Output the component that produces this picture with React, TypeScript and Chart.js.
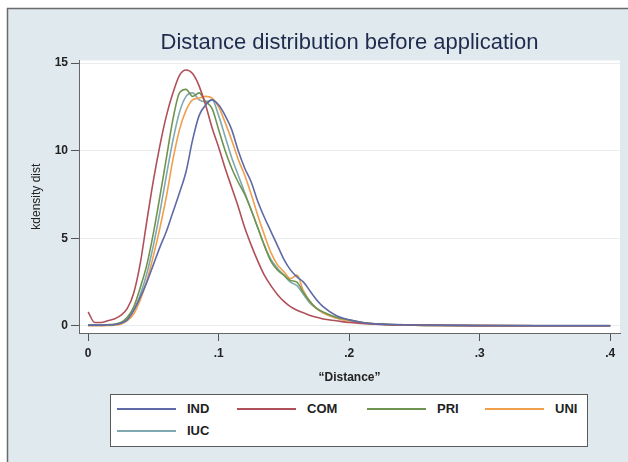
import React, { useEffect, useRef } from "react";
import { Chart, registerables } from "chart.js";

Chart.register(...registerables);

const xGrid = [
  0, 0.005, 0.01, 0.015, 0.02, 0.025, 0.03, 0.035, 0.04, 0.045, 0.05, 0.055, 0.06, 0.065, 0.07,
  0.075, 0.08, 0.085, 0.09, 0.095, 0.1, 0.105, 0.11, 0.115, 0.12, 0.125, 0.13, 0.135, 0.14, 0.145,
  0.15, 0.155, 0.16, 0.165, 0.17, 0.175, 0.18, 0.19, 0.2, 0.21, 0.22, 0.25, 0.3, 0.35, 0.4,
];

const IND = [
  0.05, 0.05, 0.05, 0.06, 0.08, 0.15, 0.35, 0.9, 1.65, 2.5, 3.5, 4.5, 5.4, 6.5, 7.6,
  8.8, 10.6, 12.0, 12.6, 12.9, 12.6, 12.0, 11.2, 10.0, 9.0, 8.2, 7.1, 6.2, 5.4, 4.6,
  3.8, 3.2, 2.8, 2.5, 2.0, 1.5, 1.1, 0.6, 0.35, 0.2, 0.12, 0.06, 0.03, 0.02, 0.02,
];
const COM = [
  0.8, 0.2, 0.2, 0.3, 0.4, 0.6, 1.0, 1.9, 3.6, 6.0, 8.3, 10.3, 12.0, 13.3, 14.3,
  14.6, 14.4, 13.7, 12.6, 11.3, 10.2, 9.0, 7.9, 6.8, 5.6, 4.6, 3.7, 2.9, 2.3, 1.8,
  1.4, 1.1, 0.9, 0.75, 0.6, 0.5, 0.4, 0.3, 0.2, 0.15, 0.1, 0.05, 0.02, 0.01, 0.01,
];
const PRI = [
  0.05, 0.05, 0.05, 0.07, 0.1, 0.2, 0.5, 1.1, 2.2, 3.5, 5.3, 7.4, 9.6, 11.8, 13.3,
  13.5, 13.1, 13.3, 12.8, 12.4, 11.2, 10.0, 9.0, 8.2, 7.5, 6.6, 5.6, 4.6, 3.7, 3.2,
  2.9, 2.6, 2.5, 1.9, 1.4, 1.0, 0.8, 0.5, 0.35, 0.2, 0.12, 0.05, 0.02, 0.01, 0.01,
];
const UNI = [
  0.02, 0.02, 0.02, 0.03, 0.05, 0.1, 0.3, 0.7, 1.5, 2.6, 4.0, 5.6, 7.4, 9.5, 11.2,
  12.3, 12.9, 13.0, 13.1, 13.0, 12.5, 11.6, 10.6, 9.5, 8.6, 7.5, 6.3, 5.2, 4.2, 3.5,
  3.1, 2.7, 2.9, 2.0, 1.4, 1.0, 0.75, 0.45, 0.3, 0.2, 0.12, 0.05, 0.02, 0.01, 0.01,
];
const IUC = [
  0.03, 0.03, 0.03, 0.05, 0.07, 0.15, 0.4, 0.9, 1.8, 3.0, 4.6, 6.5, 8.6, 10.6, 12.2,
  13.1, 13.3, 12.9, 12.8, 12.9, 12.0, 10.8, 9.6, 8.6, 7.6, 6.6, 5.6, 4.6, 3.8, 3.3,
  2.9, 2.5, 2.3, 1.8, 1.3, 1.0, 0.75, 0.45, 0.3, 0.18, 0.1, 0.05, 0.02, 0.01, 0.01,
];

const seriesNames = ["IND", "COM", "PRI", "UNI", "IUC"];
const seriesValues = [IND, COM, PRI, UNI, IUC];
const seriesColors = ["#5f6aa6", "#b0505a", "#6f9450", "#f0a04c", "#80a8b0"];

const xTicks = [0, 0.1, 0.2, 0.3, 0.4];
const yTicks = [0, 5, 10, 15];

const titleText = "Distance distribution before application";
const xTitle = "\u201cDistance\u201d";
const yTitle = "kdensity dist";

const FONT = "'Liberation Sans', Arial, Helvetica, sans-serif";

// legend layout (pixel positions of keys)
const legendKeyX = [117, 237, 367, 485, 117];
const legendRowY = [409, 409, 409, 409, 431];

const bgPlugin = {
  id: "bgPlugin",
  afterLayout(chart: any) {
    const tb = chart.titleBlock;
    if (tb) {
      tb.left = chart.chartArea.left;
      tb.right = chart.chartArea.right;
    }
  },
  beforeDraw(chart: any) {
    const { ctx, chartArea } = chart;
    const w = chart.width;
    const h = chart.height;
    ctx.save();
    ctx.fillStyle = "#ffffff";
    ctx.fillRect(0, 0, w, h);
    ctx.fillStyle = "#e0eaee";
    ctx.fillRect(7, 8, w - 7, h - 8);
    ctx.strokeStyle = "#6a6a6a";
    ctx.lineWidth = 1.5;
    ctx.beginPath();
    ctx.moveTo(7.5, h);
    ctx.lineTo(7.5, 8.5);
    ctx.lineTo(w, 8.5);
    ctx.stroke();
    ctx.fillStyle = "#ffffff";
    ctx.fillRect(chartArea.left, chartArea.top, chartArea.right - chartArea.left, chartArea.bottom - chartArea.top);
    ctx.restore();
  },
};

export default function App() {
  const ref = useRef<HTMLCanvasElement | null>(null);

  useEffect(() => {
    document.body.style.margin = "0";
    if (!ref.current) return;
    const chart = new Chart(ref.current, {
      type: "line",
      data: {
        datasets: seriesNames.map((name, k) => ({
          label: name,
          data: xGrid.map((x, i) => ({ x, y: seriesValues[k][i] })),
          borderColor: seriesColors[k],
          backgroundColor: seriesColors[k],
          borderWidth: 1.6,
          pointRadius: 0,
          fill: false,
          cubicInterpolationMode: "monotone" as const,
        })),
      },
      options: {
        responsive: false,
        animation: false,
        layout: { padding: { left: 0, right: 8, top: 0, bottom: 69 } },
        plugins: {
          legend: { display: false },
          tooltip: { enabled: false },
          title: {
            display: true,
            text: titleText,
            color: "#1f2b4d",
            font: { family: FONT, size: 22, weight: "normal" },
            padding: { top: 30, bottom: 4 },
          },
        },
        scales: {
          x: {
            type: "linear",
            min: -0.007,
            max: 0.4075,
            afterBuildTicks: (s: any) => {
              s.ticks = xTicks.map((v) => ({ value: v }));
            },
            afterFit: (s: any) => {
              s.height = 60;
            },
            ticks: {
              color: "#222",
              font: { family: FONT, size: 12, weight: "bold" },
              padding: 5,
              maxRotation: 0,
              autoSkip: false,
              callback: (v: any) => (Number(v) === 0 ? "0" : "." + Math.round(Number(v) * 10)),
            },
            grid: { drawOnChartArea: false, tickColor: "#555", tickLength: 8, tickWidth: 1 },
            border: { display: true, color: "#666", width: 1 },
            title: {
              display: true,
              text: xTitle,
              color: "#222",
              font: { family: FONT, size: 12, weight: "bold" },
              padding: { top: 0, bottom: 8 },
            },
          },
          y: {
            type: "linear",
            min: -0.4,
            max: 15.15,
            afterBuildTicks: (s: any) => {
              s.ticks = yTicks.map((v) => ({ value: v }));
            },
            afterFit: (s: any) => {
              s.width = 79;
            },
            ticks: {
              color: "#222",
              font: { family: FONT, size: 12, weight: "bold" },
              padding: 3,
              autoSkip: false,
            },
            grid: { color: "#e8eced", tickColor: "#555", tickLength: 8, lineWidth: 1 },
            border: { display: true, color: "#666", width: 1 },
            title: {
              display: true,
              text: yTitle,
              color: "#222",
              font: { family: FONT, size: 12 },
              padding: { top: 29, bottom: 0 },
            },
          },
        },
      },
      plugins: [bgPlugin],
    });
    return () => chart.destroy();
  }, []);

  return (
    <div style={{ position: "fixed", left: 0, top: 0, width: 628, height: 462 }}>
      <canvas ref={ref} width={628} height={462} style={{ position: "absolute", left: 0, top: 0 }} />
      <div
        style={{
          position: "absolute",
          left: 110,
          top: 394,
          width: 478,
          height: 53,
          boxSizing: "border-box",
          border: "1.5px solid #5a5a5a",
          background: "#ffffff",
        }}
      />
      {seriesNames.map((name, k) => (
        <React.Fragment key={name}>
          <div
            style={{
              position: "absolute",
              left: legendKeyX[k],
              top: legendRowY[k] - 1,
              width: 59,
              height: 2,
              background: seriesColors[k],
            }}
          />
          <div
            style={{
              position: "absolute",
              left: legendKeyX[k] + 70,
              top: legendRowY[k] - 8,
              fontFamily: FONT,
              fontSize: 13,
              fontWeight: "bold",
              lineHeight: "16px",
              color: "#222",
            }}
          >
            {name}
          </div>
        </React.Fragment>
      ))}
    </div>
  );
}
